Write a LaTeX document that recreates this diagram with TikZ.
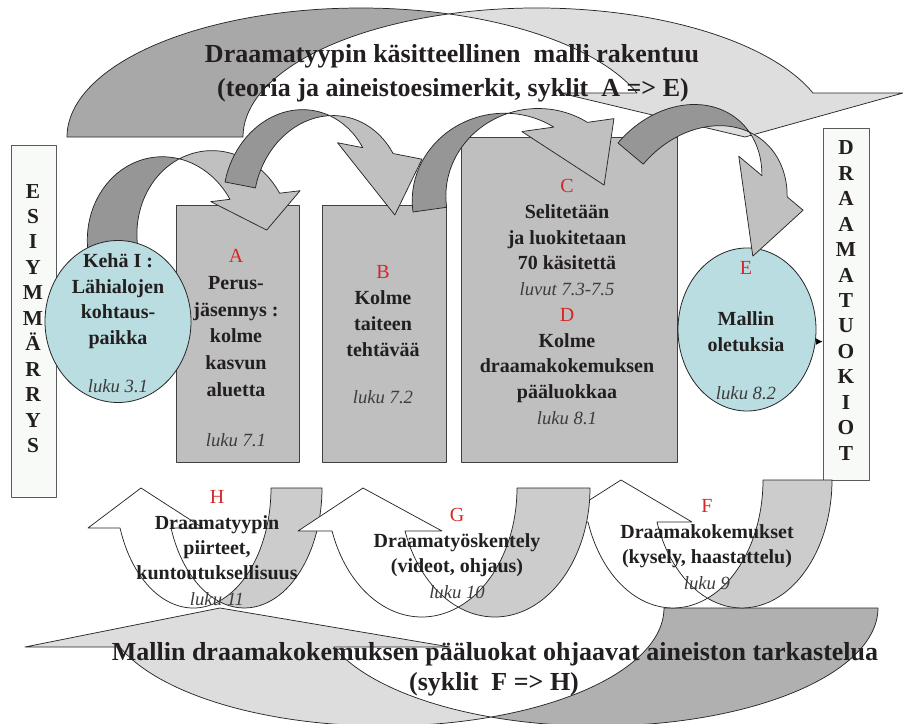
\documentclass[tikz,border=0pt]{standalone}
\usepackage{fontspec}
\setmainfont{Liberation Serif}
\usetikzlibrary{shapes.geometric,arrows.meta}

\definecolor{inkc}{RGB}{35,31,32}
\definecolor{redc}{RGB}{214,38,40}
\definecolor{lukuc}{RGB}{60,60,60}
\definecolor{boxc}{RGB}{191,191,191}
\definecolor{tealc}{RGB}{185,221,225}
\definecolor{palec}{RGB}{248,250,248}
\definecolor{topback}{RGB}{168,168,168}
\definecolor{topfront}{RGB}{222,222,222}
\definecolor{smallback}{RGB}{150,150,150}
\definecolor{smallfront}{RGB}{192,192,192}
\definecolor{lowback}{RGB}{204,204,204}
\definecolor{bigback}{RGB}{176,176,176}
\definecolor{bigfront}{RGB}{221,221,221}

% Ribbon arrow bending downwards (head on the right, pointing down).
% #1 placement, #2 x radius, #3 y radius, #4 band width, #5 head height,
% #6 left barb, #7 tip, #8 right barb, #9 colour set
\newcommand{\downribbon}[9]{%
  \begin{scope}[#1]
    \pgfmathsetmacro\rbc{acos(#4/(2*#2))}
    \pgfmathsetmacro\rbe{360-asin(#5/#3)}
    \pgfmathsetmacro\rbxa{#2+#2*cos(\rbe)}
    \pgfmathsetmacro\rbxb{#2+#4+#2*cos(\rbe)}
    \pgfmathsetmacro\rbcx{#2+#4/2}
    \pgfmathsetmacro\rbcy{-#3*sin(\rbc)}
    \path[back#9] (0,0)
      arc[start angle=180, end angle=360-\rbc, x radius=#2, y radius=#3]
      arc[start angle=180+\rbc, end angle=180, x radius=#2, y radius=#3] -- cycle;
    \path[front#9] (\rbcx,\rbcy)
      arc[start angle=180+\rbc, end angle=\rbe, x radius=#2, y radius=#3]
      -- (#8,-#5) -- (#7,0) -- (#6,-#5) -- (\rbxa,-#5)
      arc[start angle=\rbe, end angle=360-\rbc, x radius=#2, y radius=#3] -- cycle;
  \end{scope}}

% Ribbon arrow bending upwards (head on the left, pointing up).
\newcommand{\upribbon}[9]{%
  \begin{scope}[#1]
    \pgfmathsetmacro\rbc{acos(#4/(2*#2))}
    \pgfmathsetmacro\rbe{180-asin(#5/#3)}
    \pgfmathsetmacro\rbxa{#2*cos(\rbe)}
    \pgfmathsetmacro\rbxb{#4+#2*cos(\rbe)}
    \pgfmathsetmacro\rbcx{#4/2}
    \pgfmathsetmacro\rbcy{#3*sin(\rbc)}
    \path[back#9] (#2,0)
      arc[start angle=0, end angle=\rbc, x radius=#2, y radius=#3]
      arc[start angle=180-\rbc, end angle=0, x radius=#2, y radius=#3] -- cycle;
    \path[front#9] (\rbcx,\rbcy)
      arc[start angle=\rbc, end angle=\rbe, x radius=#2, y radius=#3]
      -- (#6,#5) -- (#7,0) -- (#8,#5) -- (\rbxb,#5)
      arc[start angle=\rbe, end angle=180-\rbc, x radius=#2, y radius=#3] -- cycle;
  \end{scope}}

\newcommand\redlet[1]{{\mdseries\color{redc}#1}}
\newcommand\lukut[1]{{\mdseries\itshape\fontsize{14}{19}\selectfont\color{lukuc}#1}}

\begin{document}
\begin{tikzpicture}[x=0.75pt,y=-0.75pt,line join=round,
  outline/.style={draw=black!85,line width=0.55pt},
  backtop/.style={outline,fill=topback},
  fronttop/.style={outline,fill=topfront},
  backsmall/.style={outline,fill=smallback},
  frontsmall/.style={outline,fill=smallfront},
  backlow/.style={outline,fill=lowback},
  frontlow/.style={outline,fill=white},
  backbig/.style={outline,fill=bigback},
  frontbig/.style={outline,fill=bigfront},
  panel/.style={rectangle,draw=black!75,line width=0.6pt,fill=boxc,inner sep=0},
  strip/.style={rectangle,draw=black!65,line width=0.6pt,fill=palec,inner sep=0},
  bubble/.style={ellipse,draw=black!85,line width=0.6pt,fill=tealc,inner sep=0},
  title/.style={font=\fontsize{19.5}{25}\selectfont\bfseries,text=inkc,inner sep=0},
  body/.style={font=\fontsize{15}{19.3}\selectfont\bfseries,text=inkc,align=center,inner sep=0},
  vlet/.style={font=\fontsize{16}{19.1}\selectfont\bfseries,text=inkc,align=center,inner sep=0},
  connector/.style={draw=black,line width=0.6pt,-{Latex[length=5pt,width=5pt]}}]
\useasboundingbox (0,0) rectangle (903,724);

% large ribbons above and below
\downribbon{shift={(67,137)}}{293.8}{129}{176}{44}{493}{678}{836}{top}
\upribbon{shift={(384,608)}}{280}{118}{214}{39}{-359}{-164}{66}{big}

% chapter boxes
\node[panel,minimum width=92.25pt,minimum height=192.75pt] (boxA) at (237.5,333.5) {};
\node[panel,minimum width=93pt,minimum height=192.75pt] (boxB) at (384,333.5) {};
\node[panel,minimum width=162pt,minimum height=243.75pt] (boxC) at (569,299.5) {};
\node[strip,minimum width=33.75pt,minimum height=264pt] (esi) at (33.5,321) {};
\node[strip,minimum width=34.5pt,minimum height=264pt] (dra) at (846,304) {};
\node[bubble,minimum width=103.5pt,minimum height=122.25pt] (ellE) at (747,329.5) {};

% small ribbons linking the stages
\downribbon{shift={(88,252)},rotate=7}{77}{86}{50}{35}{128}{180}{218}{small}
\downribbon{shift={(225,182)},rotate=-11}{74.6}{87}{31}{60}{103}{173}{189}{small}
\downribbon{shift={(413,212)},rotate=8}{91}{86}{34}{64.5}{119}{193}{212}{small}
\downribbon{shift={(618,143)},rotate=-40}{77}{95}{33}{67.5}{101}{176}{185}{small}

\node[bubble,minimum width=109.5pt,minimum height=121.5pt] (keha) at (118,321.5) {};

% lower cycle ribbons
\upribbon{shift={(193.3,488)}}{77.7}{120}{51}{40}{-105.3}{-52.3}{9.7}{low}
\upribbon{shift={(673,480)}}{90}{128}{69}{42}{-118}{-52}{19}{low}
\upribbon{shift={(421.8,488)}}{95.2}{129}{73}{43}{-123.8}{-58.8}{20.2}{low}

\draw[connector] (ellE.-10.4) -- (ellE.-10.4 -| dra.west);

% headings
\node[title,anchor=base] (t1) at (452,63) {Draamatyypin käsitteellinen~~malli rakentuu};
\node[title,anchor=base] (t2) at (453,97) {(teoria ja aineistoesimerkit, syklit~~A => E)};
\node[title,anchor=base] (b1) at (495,660) {Mallin draamakokemuksen pääluokat ohjaavat aineiston tarkastelua};
\node[title,anchor=base] (b2) at (494,690) {(syklit~~F => H)};

% vertical labels
\node[vlet] (esitxt) at (33,318.5) {E\\S\\I\\Y\\M\\M\\Ä\\R\\R\\Y\\S};
\node[vlet] (dratxt) at (846,300.5) {D\\R\\A\\A\\M\\A\\T\\U\\O\\K\\I\\O\\T};

% stage texts
\node[body] (kehatxt) at (118,323) {Kehä I :\\Lähialojen\\kohtaus-\\paikka\\[16.5pt]\lukut{luku 3.1}};
\node[body,font=\fontsize{15}{20}\selectfont\bfseries] (txtA) at (236,348.5) {\redlet{A}\\Perus-\\jäsennys :\\kolme\\kasvun\\aluetta\\[18pt]\lukut{luku 7.1}};
\node[body] (txtB) at (383,335) {\redlet{B}\\Kolme\\taiteen\\tehtävää\\[16.5pt]\lukut{luku 7.2}};
\node[body] (txtC) at (567,302) {\redlet{C}\\Selitetään\\ja luokitetaan\\70 käsitettä\\\lukut{luvut 7.3-7.5}\\\redlet{D}\\Kolme\\draamakokemuksen\\pääluokkaa\\\lukut{luku 8.1}};
\node[body] (txtE) at (746,330.5) {\redlet{E}\\[19pt]Mallin\\oletuksia\\[17pt]\lukut{luku 8.2}};
\node[body,font=\fontsize{15}{19}\selectfont\bfseries] (txtH) at (217,548) {\redlet{H}\\Draamatyypin\\piirteet,\\kuntoutuksellisuus\\\lukut{luku 11}};
\node[body] (txtG) at (457,553.5) {\redlet{G}\\Draamatyöskentely\\(videot, ohjaus)\\\lukut{luku 10}};
\node[body] (txtF) at (707,544.5) {\redlet{F}\\Draamakokemukset\\(kysely, haastattelu)\\\lukut{luku 9}};
\end{tikzpicture}
\end{document}
